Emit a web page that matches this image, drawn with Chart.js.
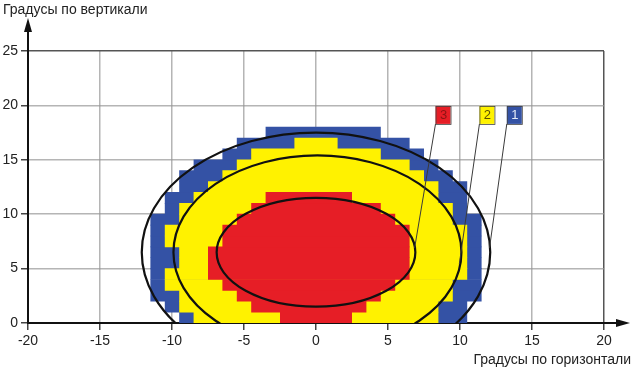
<!DOCTYPE html>
<html>
<head>
<meta charset="utf-8">
<script src="https://cdn.jsdelivr.net/npm/chart.js@4.4.1/dist/chart.umd.min.js"></script>
<style>
    html, body { margin: 0; padding: 0; background: #fff; }
    canvas { display: block; }
</style>
</head>
<body>
<canvas id="field" width="634" height="368"></canvas>
<script>
// --- data: rows are 1 degree tall, centred at these heights ---
const rows = [0.5, 1.5, 2.5, 3.5, 4.5, 5.5, 6.5, 7.5, 8.5, 9.5, 10.5, 11.5, 12.5, 13.5, 14.5, 15.5, 16.5, 17.5];

// zone 1 (blue), left / right edge per row, degrees
const blueLeft  = [-9.5, -10.5, -11.5, -11.5, -11.5, -11.5, -11.5, -11.5, -11.5, -11.5, -10.5, -10.5, -9.5, -9.5, -8.5, -6.5, -5.5, -3.5];
const blueRight = [10.5, 10.5, 11.5, 11.5, 11.5, 11.5, 11.5, 11.5, 11.5, 11.5, 10.5, 10.5, 10.5, 9.5, 8.5, 7.5, 6.5, 4.5];

// zone 2 (yellow)
const yellowLeft  = [-8.5, -9.5, -9.5, -10.5, -10.5, -9.5, -9.5, -10.5, -10.5, -9.5, -9.5, -8.5, -7.5, -6.5, -5.5, -4.5, -1.5];
const yellowRight = [8.5, 8.5, 9.5, 9.5, 10.5, 10.5, 10.5, 10.5, 10.5, 9.5, 9.5, 8.5, 8.5, 7.5, 6.5, 4.5, 1.5];

// zone 3 (red)
const redLeft  = [-2.5, -4.5, -5.5, -6.5, -7.5, -7.5, -7.5, -6.5, -6.5, -5.5, -4.5, -3.5];
const redRight = [2.5, 3.5, 4.5, 5.5, 6.5, 6.5, 6.5, 6.5, 6.5, 5.5, 4.5, 2.5];

// fitted ellipses: outer (1), middle (2), inner (3)
const ellipseCx = [0, 0.1, 0];
const ellipseCy = [6.5, 6.5, 6.5];
const ellipseRx = [12.1, 10.0, 6.9];
const ellipseRy = [11.0, 8.9, 5.0];

// numbered callouts: box anchor (bottom-left) and where the leader line ends
const labelNames = ['3', '2', '1'];
const labelX = [8.3, 11.35, 13.25];
const labelY = [18.3, 18.3, 18.3];
const targetX = [6.85, 9.95, 12.05];
const targetY = [6.9, 5.4, 6.9];

const xTicks = [-20, -15, -10, -5, 0, 5, 10, 15, 20];
const yTicks = [0, 5, 10, 15, 20, 25];
const xTitle = 'Градусы по горизонтали';
const yTitle = 'Градусы по вертикали';

// --- styles ---
const BLUE = '#3452a5';
const YELLOW = '#fff200';
const RED = '#e61e26';
const labelFill = [RED, YELLOW, BLUE];
const labelInk = ['#8c1414', '#5c5000', '#e6ebf7'];

const zone = (left, right) => left.map((l, i) => ({ y: rows[i], x: [l, right[i]] }));

const gridColor = (edge) => (c) => (c.tick && c.tick.value === edge) ? '#555' : 'rgba(150,150,150,0.7)';

const overlay = {
    id: 'overlay',
    afterDraw(chart) {
        const { ctx, chartArea: a, scales: { x, y } } = chart;

        // ellipses, clipped at the horizon line
        ctx.save();
        ctx.beginPath();
        ctx.rect(a.left, a.top, a.width, a.height);
        ctx.clip();
        ctx.strokeStyle = '#111';
        ctx.lineWidth = 2.2;
        ellipseCx.forEach((cx, i) => {
            const px = x.getPixelForValue(cx);
            const py = y.getPixelForValue(ellipseCy[i]);
            const rx = x.getPixelForValue(cx + ellipseRx[i]) - px;
            const ry = py - y.getPixelForValue(ellipseCy[i] + ellipseRy[i]);
            ctx.beginPath();
            ctx.ellipse(px, py, rx, ry, 0, 0, Math.PI * 2);
            ctx.stroke();
        });
        ctx.restore();

        // axis extensions with arrow heads
        ctx.save();
        ctx.strokeStyle = '#111';
        ctx.fillStyle = '#111';
        ctx.lineWidth = 2;
        ctx.beginPath();
        ctx.moveTo(a.left, a.top);
        ctx.lineTo(a.left, 30);
        ctx.moveTo(a.right, a.bottom);
        ctx.lineTo(618, a.bottom);
        ctx.stroke();
        ctx.beginPath();
        ctx.moveTo(a.left, 18);
        ctx.lineTo(a.left - 4, 32);
        ctx.lineTo(a.left + 4, 32);
        ctx.closePath();
        ctx.fill();
        ctx.beginPath();
        ctx.moveTo(630, a.bottom);
        ctx.lineTo(616, a.bottom - 4);
        ctx.lineTo(616, a.bottom + 4);
        ctx.closePath();
        ctx.fill();
        ctx.restore();

        // numbered callouts
        ctx.save();
        labelNames.forEach((name, i) => {
            const bx = x.getPixelForValue(labelX[i]);
            const by = y.getPixelForValue(labelY[i]);
            const tx = x.getPixelForValue(targetX[i]);
            const ty = y.getPixelForValue(targetY[i]);
            ctx.strokeStyle = '#3a3a3a';
            ctx.lineWidth = 1;
            ctx.beginPath();
            ctx.moveTo(bx, by);
            ctx.lineTo(tx, ty);
            ctx.stroke();
            ctx.fillStyle = labelFill[i];
            ctx.fillRect(bx, by - 18, 15, 18);
            ctx.strokeStyle = '#444';
            ctx.lineWidth = 0.8;
            ctx.strokeRect(bx + 0.5, by - 17.5, 15, 18);
            ctx.fillStyle = labelInk[i];
            ctx.font = "13px 'Liberation Sans', Arial, sans-serif";
            ctx.textAlign = 'center';
            ctx.textBaseline = 'middle';
            ctx.fillText(name, bx + 8, by - 8.5);
        });
        ctx.restore();

        // axis titles
        ctx.save();
        ctx.fillStyle = '#222';
        ctx.font = "14px 'Liberation Sans', Arial, sans-serif";
        ctx.textBaseline = 'alphabetic';
        ctx.textAlign = 'left';
        ctx.fillText(yTitle, 3, 14);
        ctx.textAlign = 'right';
        ctx.fillText(xTitle, 631, 364);
        ctx.restore();
    }
};

Chart.defaults.font.family = "'Liberation Sans', Arial, sans-serif";
Chart.defaults.font.size = 14;
Chart.defaults.color = '#222';

new Chart(document.getElementById('field'), {
    type: 'bar',
    data: {
        datasets: [
            { label: '3', data: zone(redLeft, redRight), backgroundColor: RED },
            { label: '2', data: zone(yellowLeft, yellowRight), backgroundColor: YELLOW },
            { label: '1', data: zone(blueLeft, blueRight), backgroundColor: BLUE }
        ]
    },
    options: {
        indexAxis: 'y',
        responsive: false,
        animation: false,
        events: [],
        grouped: false,
        barPercentage: 1.06,
        categoryPercentage: 1,
        borderWidth: 0,
        borderSkipped: false,
        layout: { padding: { left: 0, top: 51, right: 30, bottom: 0 } },
        plugins: { legend: { display: false }, tooltip: { enabled: false } },
        scales: {
            x: {
                type: 'linear',
                min: -20,
                max: 20,
                z: 1,
                offset: false,
                afterBuildTicks: (s) => { s.ticks = xTicks.map(v => ({ value: v })); },
                afterFit: (s) => { s.height = 45; },
                ticks: { padding: 3, color: '#222' },
                grid: { offset: false, color: gridColor(20), lineWidth: 1.5, tickLength: 7, tickColor: '#444' },
                border: { color: '#111', width: 2 }
            },
            y: {
                type: 'linear',
                min: 0,
                max: 25,
                z: 1,
                offset: false,
                afterBuildTicks: (s) => { s.ticks = yTicks.map(v => ({ value: v })); },
                afterFit: (s) => { s.width = 28; },
                ticks: { padding: 3, color: '#222' },
                grid: { offset: false, color: gridColor(25), lineWidth: 1.5, tickLength: 7, tickColor: '#444' },
                border: { color: '#111', width: 2 }
            }
        }
    },
    plugins: [overlay]
});
</script>
</body>
</html>
